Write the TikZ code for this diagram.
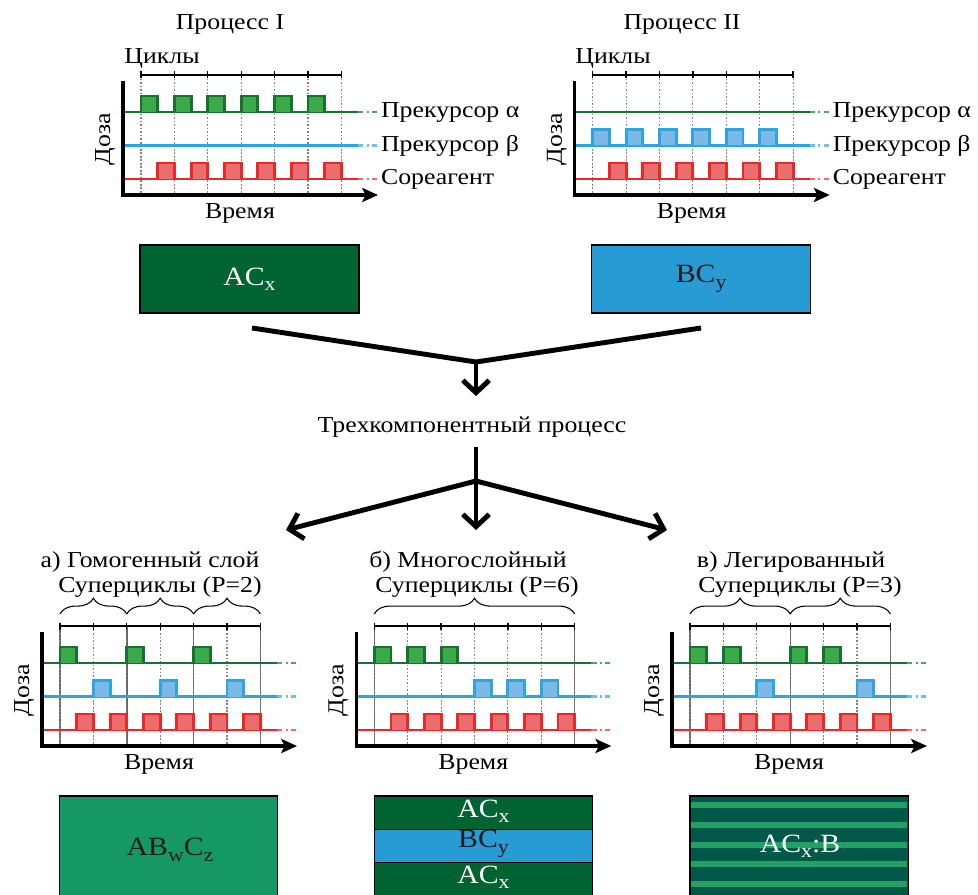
\documentclass[tikz,border=0pt]{standalone}
\usepackage{fontspec}
\setmainfont[FakeStretch=1.13]{Liberation Serif}
\usetikzlibrary{arrows.meta,decorations.pathreplacing}

\definecolor{grnline}{RGB}{20,115,45}
\definecolor{grnfill}{RGB}{60,170,75}
\definecolor{bluline}{RGB}{45,165,225}
\definecolor{blufill}{RGB}{125,185,230}
\definecolor{redline}{RGB}{235,40,40}
\definecolor{redfill}{RGB}{235,110,110}
\definecolor{acgreen}{RGB}{0,100,50}
\definecolor{bcblue}{RGB}{40,155,212}
\definecolor{abcgreen}{RGB}{22,152,102}
\definecolor{dopeteal}{RGB}{0,88,72}
\definecolor{dopestripe}{RGB}{35,160,100}
\definecolor{darktext}{RGB}{30,30,30}

\def\cyc{33.4}
\newcommand{\idx}[1]{\raisebox{-0.45ex}{\fontsize{11}{13}\selectfont #1}}

\tikzset{
  lbl/.style={font=\fontsize{13}{15}\selectfont, inner sep=1pt},
  film/.style={font=\fontsize{15}{17}\selectfont, inner sep=1pt},
  axisline/.style={line width=1.8pt, -{Stealth[length=9pt,width=8pt,inset=2pt]}},
  barline/.style={line width=0.7pt},
  sepdot/.style={gray, line width=0.6pt, dash pattern=on 1pt off 1pt},
  sepsolid/.style={gray!80!black, line width=0.8pt},
  rowline/.style={line width=1.7pt},
  grnrow/.style={rowline, draw=grnline, fill=grnfill},
  blurow/.style={rowline, draw=bluline, fill=blufill},
  redrow/.style={rowline, draw=redline, fill=redfill},
  rowend/.style={line width=1.7pt, dash pattern=on 3pt off 2pt on 1pt off 2pt},
  flowline/.style={line width=2.8pt},
  flow/.style={flowline, -{Straight Barb[length=7pt,width=15pt]}},
  supbrace/.style={decorate, decoration={brace,amplitude=9pt}, line width=0.6pt},
  box/.style={draw=black, line width=0.6pt},
}

% dose/time frame in the current scope, origin at the first cycle mark
\newcommand{\doseframe}[1]{%
  \foreach \i in {0,...,6} \draw[sepdot] (\i*\cyc,0) -- (\i*\cyc,120);
  \draw[barline] (0,0) -- (6*\cyc,0);
  \foreach \i in {0,...,6} \draw[barline] (\i*\cyc,-3.5) -- (\i*\cyc,3.5);
  \draw[grnline,rowline] (-18,37) -- (217,37);
  \draw[grnline!70,rowend] (217,37) -- (236,37);
  \draw[bluline,rowline] (-18,70.5) -- (217,70.5);
  \draw[bluline!70,rowend] (217,70.5) -- (236,70.5);
  \draw[redline,rowline] (-18,104) -- (217,104);
  \draw[redline!70,rowend] (217,104) -- (236,104);
  \draw[axisline] (-18,6) -- (-18,120) -- (237,120);
  \node[lbl,rotate=90] (#1-dose) at (-36,64) {Доза};
  \node[lbl] (#1-time) at (99,138) {Время};
}

% pulses on one row, #3 = half-cycle slots
\newcommand{\pulses}[3]{%
  \foreach \h in {#3}
    \draw[#1] (\h*\cyc/2,#2) -- (\h*\cyc/2,#2-16) -- (\h*\cyc/2+\cyc/2,#2-16) -- (\h*\cyc/2+\cyc/2,#2);
}

\begin{document}
\begin{tikzpicture}[x=0.02cm,y=-0.02cm]
  \useasboundingbox (0,0) rectangle (978,895);
  \clip (0,0) rectangle (978,895);

  \node[lbl] (titleI) at (230,24) {Процесс I};
  \node[lbl] (cyclesI) at (162,58) {Циклы};
  \begin{scope}[shift={(141,75)}]
    \doseframe{pI}
    \pulses{grnrow}{37}{0,2,4,6,8,10}
    \pulses{redrow}{104}{1,3,5,7,9,11}
    \node[lbl,anchor=west] (alphaI) at (238,37) {Прекурсор α};
    \node[lbl,anchor=west] (betaI) at (238,70.5) {Прекурсор β};
    \node[lbl,anchor=west] (coI) at (238,104) {Сореагент};
  \end{scope}

  \node[lbl] (titleII) at (682,24) {Процесс II};
  \node[lbl] (cyclesII) at (613,58) {Циклы};
  \begin{scope}[shift={(592.7,75)}]
    \doseframe{pII}
    \pulses{blurow}{70.5}{0,2,4,6,8,10}
    \pulses{redrow}{104}{1,3,5,7,9,11}
    \node[lbl,anchor=west] (alphaII) at (238,37) {Прекурсор α};
    \node[lbl,anchor=west] (betaII) at (238,70.5) {Прекурсор β};
    \node[lbl,anchor=west] (coII) at (238,104) {Сореагент};
  \end{scope}

  \node[film,box,fill=acgreen,text=white,minimum width=4.38cm,minimum height=1.36cm] (boxI) at (249.5,279) {AC\idx{x}};
  \node[film,box,fill=bcblue,text=darktext,minimum width=4.38cm,minimum height=1.36cm] (boxII) at (701.2,279) {BC\idx{y}};

  \coordinate (fromI) at (252,328);
  \coordinate (fromII) at (701,328);
  \coordinate (merge) at (476,362);
  \coordinate (intoT) at (476,396);
  \node[lbl] (three) at (472,427) {Трехкомпонентный процесс};
  \coordinate (outT) at (476,447);
  \coordinate (split) at (476,481);
  \coordinate (toA) at (286,530);
  \coordinate (toB) at (476,530);
  \coordinate (toC) at (667,530);
  \draw[flowline] (fromI) -- (merge) -- (fromII);
  \draw[flow] (merge) -- (intoT);
  \draw[flowline] (outT) -- (split);
  \draw[flow] (split) -- (toA);
  \draw[flow] (split) -- (toB);
  \draw[flow] (split) -- (toC);

  \node[lbl] (headA) at (150,562) {а) Гомогенный слой};
  \node[lbl] (superA) at (160,587) {Суперциклы (P=2)};
  \begin{scope}[shift={(60,626)}]
    \foreach \i in {0,2,4,6} \draw[sepsolid] (\i*\cyc,0) -- (\i*\cyc,120);
    \doseframe{pa}
    \pulses{grnrow}{37}{0,4,8}
    \pulses{blurow}{70.5}{2,6,10}
    \pulses{redrow}{104}{1,3,5,7,9,11}
    \foreach \s in {0,2,4} \draw[supbrace] (\s*\cyc,-12) -- (\s*\cyc+2*\cyc,-12);
  \end{scope}

  \node[lbl] (headB) at (468,562) {б) Многослойный};
  \node[lbl] (superB) at (477,587) {Суперциклы (P=6)};
  \begin{scope}[shift={(374.3,626)}]
    \foreach \i in {0,6} \draw[sepsolid] (\i*\cyc,0) -- (\i*\cyc,120);
    \doseframe{pb}
    \pulses{grnrow}{37}{0,2,4}
    \pulses{blurow}{70.5}{6,8,10}
    \pulses{redrow}{104}{1,3,5,7,9,11}
    \draw[supbrace] (0,-12) -- (6*\cyc,-12);
  \end{scope}

  \node[lbl] (headC) at (791,562) {в) Легированный};
  \node[lbl] (superC) at (800,587) {Суперциклы (P=3)};
  \begin{scope}[shift={(690,626)}]
    \foreach \i in {0,3,6} \draw[sepsolid] (\i*\cyc,0) -- (\i*\cyc,120);
    \doseframe{pc}
    \pulses{grnrow}{37}{0,2,6,8}
    \pulses{blurow}{70.5}{4,10}
    \pulses{redrow}{104}{1,3,5,7,9,11}
    \foreach \s in {0,3} \draw[supbrace] (\s*\cyc,-12) -- (\s*\cyc+3*\cyc,-12);
  \end{scope}

  \fill[abcgreen] (59.3,796) rectangle (277.7,900);
  \draw[box] (59.3,900) -- (59.3,796) -- (277.7,796) -- (277.7,900);
  \node[film,text=darktext] (filmA) at (170,850) {AB\idx{w}C\idx{z}};

  \fill[acgreen] (374.3,796) rectangle (592.7,900);
  \fill[bcblue] (374.3,829.3) rectangle (592.7,862.3);
  \draw[box] (374.3,900) -- (374.3,796) -- (592.7,796) -- (592.7,900);
  \draw[box] (374.3,829.3) -- (592.7,829.3) (374.3,862.3) -- (592.7,862.3);
  \node[film,text=white] (filmB1) at (483.5,811) {AC\idx{x}};
  \node[film,text=darktext] (filmB2) at (483.5,844) {BC\idx{y}};
  \node[film,text=white] (filmB3) at (483.5,877) {AC\idx{x}};

  \fill[dopeteal] (690,796) rectangle (908.3,900);
  \foreach \k in {0,...,4} \fill[dopestripe] (691,802+\k*19.8) rectangle (907.3,808+\k*19.8);
  \draw[box] (690,900) -- (690,796) -- (908.3,796) -- (908.3,900);
  \node[film,text=white] (filmC) at (800,846) {AC\idx{x}:B};
\end{tikzpicture}
\end{document}
